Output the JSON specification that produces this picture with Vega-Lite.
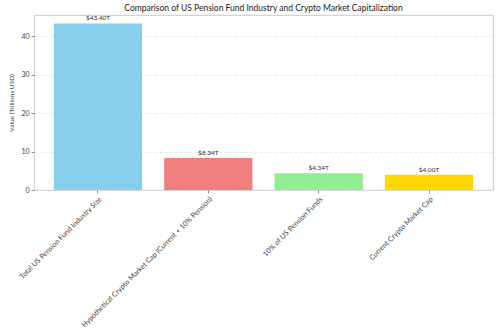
{
  "$schema": "https://vega.github.io/schema/vega-lite/v6.json",
  "autosize": "none",
  "width": 459,
  "height": 175,
  "padding": {"left": 34, "top": 15, "right": 7, "bottom": 143},
  "background": "white",
  "config": {
    "font": "Lato",
    "view": {"stroke": "#bbbbbb", "strokeWidth": 0.8}
  },
  "title": {
    "text": "Comparison of US Pension Fund Industry and Crypto Market Capitalization",
    "fontSize": 8.5,
    "fontWeight": "normal",
    "color": "#222222",
    "offset": 3
  },
  "data": {
    "values": [
      {"category": "Total US Pension Fund Industry Size", "value": 43.4, "label": "$43.40T", "color": "#87CEEB"},
      {"category": "Hypothetical Crypto Market Cap (Current + 10% Pension)", "value": 8.34, "label": "$8.34T", "color": "#F08080"},
      {"category": "10% of US Pension Funds", "value": 4.34, "label": "$4.34T", "color": "#90EE90"},
      {"category": "Current Crypto Market Cap", "value": 4.0, "label": "$4.00T", "color": "#FFD700"}
    ]
  },
  "encoding": {
    "x": {
      "field": "category",
      "type": "nominal",
      "sort": null,
      "scale": {"paddingInner": 0.2, "paddingOuter": 0.18},
      "axis": {
        "title": null,
        "labelAngle": -45,
        "labelAlign": "right",
        "labelBaseline": "top",
        "labelFontSize": 7.2,
        "labelColor": "#444444",
        "labelLimit": 300,
        "tickSize": 3,
        "tickColor": "#888888",
        "domain": false,
        "grid": false
      }
    },
    "y": {
      "field": "value",
      "type": "quantitative",
      "scale": {"domain": [0, 45.6], "nice": false},
      "axis": {
        "title": "Value (Trillions USD)",
        "titleFontSize": 6.5,
        "titleFontWeight": "normal",
        "titleColor": "#444444",
        "titlePadding": 6,
        "values": [0, 10, 20, 30, 40],
        "labelFontSize": 7,
        "labelColor": "#444444",
        "tickSize": 3,
        "tickColor": "#888888",
        "domain": false,
        "grid": true,
        "gridColor": "#dddddd",
        "gridDash": [3, 2],
        "gridWidth": 0.7
      }
    }
  },
  "layer": [
    {
      "mark": {"type": "bar"},
      "encoding": {
        "color": {"field": "color", "type": "nominal", "scale": null}
      }
    },
    {
      "mark": {"type": "text", "baseline": "bottom", "dy": -2, "fontSize": 6.5, "color": "#333333"},
      "encoding": {
        "text": {"field": "label"}
      }
    }
  ]
}
